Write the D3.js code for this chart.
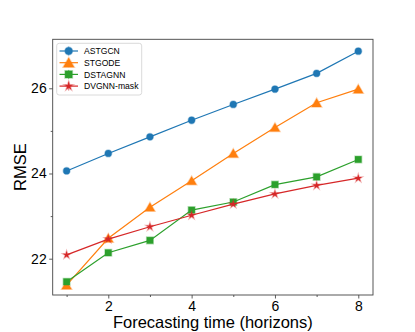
<!DOCTYPE html>
<html><head><meta charset="utf-8">
<script src="https://cdn.jsdelivr.net/npm/d3@7"></script>
<style>
html,body{margin:0;padding:0;background:#fff;}
svg{display:block;font-family:"Liberation Sans",Arial,sans-serif;}
</style></head>
<body><svg id="c" width="415" height="332"></svg>
<script>
const horizons = [1,2,3,4,5,6,7,8];
const seriesNames = ["ASTGCN","STGODE","DSTAGNN","DVGNN-mask"];
const astgcn = [24.06,24.47,24.86,25.25,25.62,25.98,26.35,26.87];
const stgode = [21.38,22.48,23.21,23.83,24.47,25.08,25.66,25.98];
const dstagnn = [21.46,22.14,22.43,23.14,23.33,23.74,23.92,24.33];
const dvgnn = [22.09,22.46,22.75,23.02,23.28,23.52,23.72,23.89];
const xTickValues = [2,4,6,8];
const yTickValues = [22,24,26];
const xMinorTicks = [1,3,5,7];
const yMinorTicks = [23,25];
const colors = ["#1f77b4","#ff7f0e","#2ca02c","#d62728"];
const markers = ["circle","triangle","square","star"];
const seriesValues = [astgcn, stgode, dstagnn, dvgnn];

const L=52.7, R=373, T=39.3, B=295;
const svg = d3.select("#c");
const x = d3.scaleLinear().domain([0.666,8.353]).range([L,R]);
const y = d3.scaleLinear().domain([21.148,27.150]).range([B,T]);

function markerPath(type){
  if(type==="circle") return d3.symbol(d3.symbolCircle, 36)();
  if(type==="square") return "M-3.3,-3.3H3.3V3.3H-3.3Z";
  if(type==="triangle") return "M0,-4.6L5,4.1L-5,4.1Z";
  if(type==="star") return d3.symbol(d3.symbolStar, 18)();
}

// axes
const gx = svg.append("g").attr("transform",`translate(0,${B})`)
  .call(d3.axisBottom(x).tickValues(xTickValues).tickSize(3.5).tickPadding(2.5).tickFormat(d3.format("d")));
const gy = svg.append("g").attr("transform",`translate(${L},0)`)
  .call(d3.axisLeft(y).tickValues(yTickValues).tickSize(3.5).tickPadding(2.5).tickFormat(d3.format("d")));
svg.append("g").attr("transform",`translate(0,${B})`)
  .call(d3.axisBottom(x).tickValues(xMinorTicks).tickSize(2).tickFormat(""));
svg.append("g").attr("transform",`translate(${L},0)`)
  .call(d3.axisLeft(y).tickValues(yMinorTicks).tickSize(2).tickFormat(""));
svg.selectAll(".domain").remove();
svg.selectAll(".tick line").attr("stroke","#333").attr("stroke-width",0.8);
svg.selectAll(".tick text").attr("font-size",14).attr("fill","#000")
  .attr("font-family","'Liberation Sans',Arial,sans-serif");

svg.append("rect").attr("x",L).attr("y",T).attr("width",R-L).attr("height",B-T)
  .attr("fill","none").attr("stroke","#444").attr("stroke-width",0.9);

// series
const line = d3.line().x((d,i)=>x(horizons[i])).y(d=>y(d));
seriesValues.forEach((vals,k)=>{
  svg.append("path").datum(vals).attr("d",line).attr("fill","none")
    .attr("stroke",colors[k]).attr("stroke-width",1.2);
  svg.append("g").selectAll("path").data(vals).join("path")
    .attr("d",markerPath(markers[k]))
    .attr("transform",(d,i)=>`translate(${x(horizons[i])},${y(d)})`)
    .attr("fill",colors[k]).attr("stroke",colors[k]).attr("stroke-opacity",0.35).attr("stroke-width",1.5);
});

// legend
const lg = svg.append("g");
lg.append("rect").attr("x",56.7).attr("y",43.3).attr("width",85).attr("height",51.7)
  .attr("rx",2.5).attr("fill","#fff").attr("fill-opacity",0.8).attr("stroke","#d0d0d0").attr("stroke-width",0.8);
seriesNames.forEach((name,k)=>{
  const cy = 51 + k*11.7;
  lg.append("line").attr("x1",59.5).attr("x2",78).attr("y1",cy).attr("y2",cy)
    .attr("stroke",colors[k]).attr("stroke-width",1.2);
  lg.append("line").attr("x1",68.7).attr("x2",68.7).attr("y1",cy-4.5).attr("y2",cy+4.5)
    .attr("stroke",colors[k]).attr("stroke-width",1).attr("stroke-opacity",0.6);
  lg.append("path").attr("d",markerPath(markers[k])).attr("transform",`translate(68.7,${cy}) scale(1.1)`)
    .attr("fill",colors[k]).attr("stroke",colors[k]).attr("stroke-opacity",0.35).attr("stroke-width",1.5);
  lg.append("text").attr("x",84).attr("y",cy+3.1).attr("font-size",8.6).attr("fill","#000").text(name);
});

// axis labels
svg.append("text").attr("x",(L+R)/2).attr("y",327.5).attr("text-anchor","middle")
  .attr("font-size",16.5).attr("fill","#000").text("Forecasting time (horizons)");
svg.append("text").attr("transform",`translate(25.5,${(T+B)/2}) rotate(-90)`).attr("text-anchor","middle")
  .attr("font-size",16.5).attr("fill","#000").text("RMSE");
</script></body></html>
